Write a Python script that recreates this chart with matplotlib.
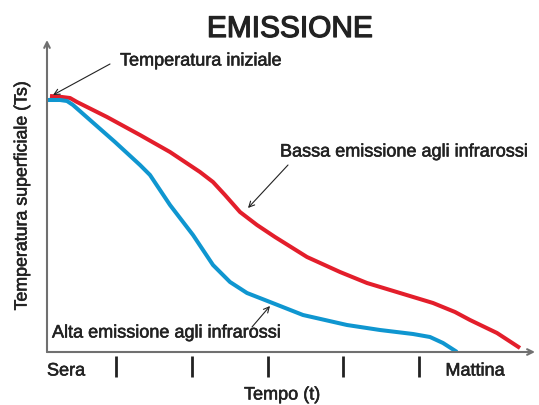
import matplotlib.pyplot as plt
import matplotlib.patheffects as pe

plt.rcParams['font.family'] = ['Liberation Sans', 'DejaVu Sans']

# dati (unità arbitrarie: tempo, temperatura)
t_bassa = [3, 15, 23, 30, 60, 93, 123, 153, 166, 178, 193, 210, 228, 260, 293, 320,
           353, 386, 408, 423, 450, 473]
ts_bassa = [256, 255, 254, 250, 235, 217, 200, 180, 170, 157, 140, 127, 115, 95, 80, 69,
            59, 49, 40, 32, 19, 4]

t_alta = [1, 13, 20, 26, 43, 68, 93, 103, 123, 146, 156, 166, 183, 200, 223, 256, 300,
          333, 366, 383, 396, 410]
ts_alta = [252, 252, 251, 247, 232, 210, 187, 177, 147, 117, 102, 87, 70, 59, 50, 37, 27,
           22, 18, 15, 9, 0]

tacche = [69, 145, 221, 296, 372]

rosso = '#e31e2b'
blu = '#0f96d0'
grigio = '#707070'
nero = '#222222'

fig = plt.figure(figsize=(5.39, 4.05), dpi=100)
ax = fig.add_axes([47 / 539, 53 / 405, 488 / 539, 312 / 405])
ax.set_xlim(0, 488)
ax.set_ylim(0, 312)
ax.axis('off')

ax.plot(t_bassa, ts_bassa, color=rosso, lw=2.9, solid_capstyle='butt',
        solid_joinstyle='round', zorder=3)
ax.plot(t_alta, ts_alta, color=blu, lw=2.9, solid_capstyle='butt',
        solid_joinstyle='round', zorder=3)

# assi con frecce
ax.annotate('', xy=(0, 312), xytext=(0, 0),
            arrowprops=dict(arrowstyle='->', color=grigio, lw=1.5, shrinkA=0, shrinkB=0))
ax.annotate('', xy=(488, 0), xytext=(0, 0),
            arrowprops=dict(arrowstyle='->', color=grigio, lw=1.5, shrinkA=0, shrinkB=0))

# tacche del tempo
ax.vlines(tacche, -0.013, -0.08, transform=ax.get_xaxis_transform(),
          color=nero, lw=2, clip_on=False)

spesso = [pe.withStroke(linewidth=0.4, foreground=nero)]
ax.text(0, -19, 'Sera', fontsize=13, ha='left', va='center', color=nero, path_effects=spesso)
ax.text(428, -19, 'Mattina', fontsize=13, ha='center', va='center', color=nero,
        path_effects=spesso)
ax.text(235, -43, 'Tempo (t)', fontsize=13, ha='center', va='center', color=nero,
        path_effects=spesso)
ax.text(-25, 156, 'Temperatura superficiale (Ts)', fontsize=12.8, ha='center', va='center',
        rotation=90, color=nero, path_effects=spesso)

fig.text(290 / 539, 1 - 37 / 405, 'EMISSIONE', fontsize=21.5, ha='center', va='baseline',
         color=nero, path_effects=[pe.withStroke(linewidth=0.9, foreground=nero)])

# etichette con frecce
freccia = dict(arrowstyle='->', color=nero, lw=0.8, shrinkA=0, shrinkB=0)
ax.text(73, 291, 'Temperatura iniziale', fontsize=13, va='center', color=nero,
        path_effects=spesso)
ax.annotate('', xy=(6, 257), xytext=(63, 288), arrowprops=freccia)
ax.text(233, 200, 'Bassa emissione agli infrarossi', fontsize=13, va='center', color=nero,
        path_effects=spesso)
ax.annotate('', xy=(201, 144), xytext=(241, 187), arrowprops=freccia)
ax.text(5, 19, 'Alta emissione agli infrarossi', fontsize=13, va='center', color=nero,
        path_effects=spesso)
ax.annotate('', xy=(223, 46), xytext=(205, 25), arrowprops=freccia)

fig.savefig('out.png', dpi=100)
